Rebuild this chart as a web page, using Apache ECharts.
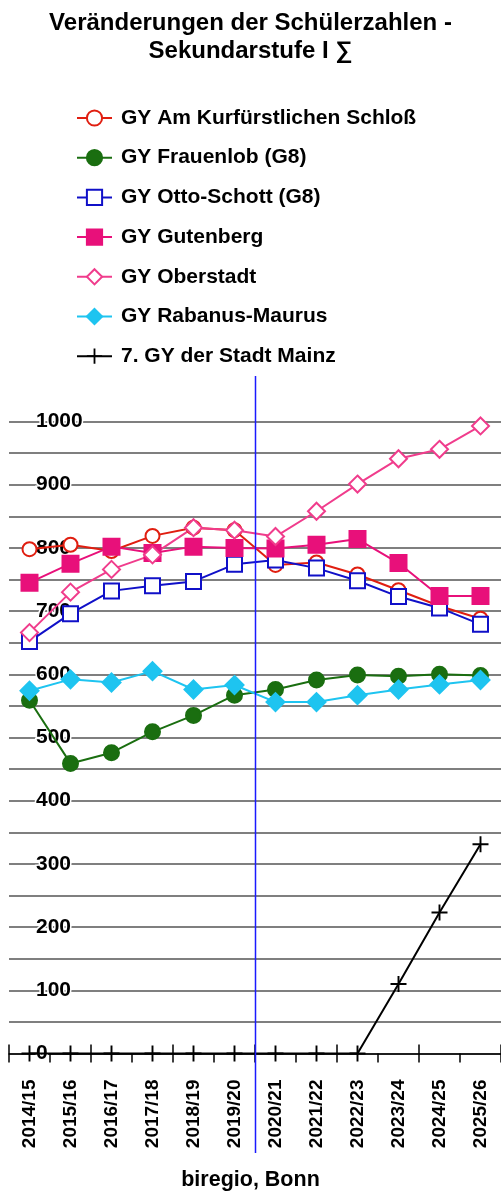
<!DOCTYPE html>
<html>
<head>
<meta charset="utf-8">
<script src="https://cdn.jsdelivr.net/npm/echarts@6/dist/echarts.min.js"></script>
<style>
  html, body { margin: 0; padding: 0; background: #fff; }
  #container { width: 501px; height: 1191px; }
</style>
</head>
<body>
<div id="container"></div>
<script>
// Schuljahre
const years = ['2014/15', '2015/16', '2016/17', '2017/18', '2018/19', '2019/20',
  '2020/21', '2021/22', '2022/23', '2023/24', '2024/25', '2025/26']

// Schülerzahlen je Gymnasium (aus dem Bild geschätzt)
const schloss    = [798, 805, 795, 819, 832, 828, 773, 777, 758, 733, 708, 688]
const frauenlob  = [559, 459, 476, 509, 535, 567, 576, 591, 599, 597, 600, 598]
const ottoSchott = [652, 696, 732, 740, 747, 774, 781, 768, 748, 723, 705, 679]
const gutenberg  = [745, 775, 802, 792, 802, 800, 799, 805, 814, 776, 724, 724]
const oberstadt  = [666, 730, 766, 789, 832, 828, 818, 858, 901, 941, 956, 993]
const rabanus    = [574, 592, 587, 605, 576, 583, 556, 556, 567, 576, 584, 591]
const mainz7     = [0, 0, 0, 0, 0, 0, 0, 0, 0, 110, 223, 331]

const font = "'Liberation Sans', Arial, sans-serif"
const cross = 'path://M4.4,0H5.6V10H4.4Z M0,4.4H10V5.6H0Z'

function line(name, data, color, symbol, size, extra) {
  return Object.assign({
    name: name,
    type: 'line',
    data: data,
    symbol: symbol,
    symbolSize: size,
    showAllSymbol: true,
    clip: false,
    lineStyle: { color: color, width: 2 },
    itemStyle: { color: color, borderColor: color, borderWidth: 2 }
  }, extra || {})
}

var dom = document.getElementById('container')
var myChart = echarts.init(dom, null, { renderer: 'canvas' })

var option = {
  animation: false,
  textStyle: { fontFamily: font },
  title: [
    {
      text: 'Veränderungen der Schülerzahlen -\nSekundarstufe I ∑',
      left: 'center',
      top: 4,
      textStyle: { fontFamily: font, fontSize: 24, fontWeight: 'bold', color: '#000', lineHeight: 28 }
    },
    {
      text: 'biregio, Bonn',
      left: 'center',
      top: 1164,
      textStyle: { fontFamily: font, fontSize: 21.5, fontWeight: 'bold', color: '#000' }
    }
  ],
  legend: {
    orient: 'vertical',
    left: 71,
    top: 102,
    itemWidth: 35,
    itemHeight: 19,
    itemGap: 17.7,
    textStyle: { fontFamily: font, fontSize: 21, fontWeight: 'bold', color: '#000', lineHeight: 22, padding: [0, 0, 0, 4] }
  },
  grid: {
    left: 9,
    right: 0,
    top: 421.5,
    bottom: 137.5,
    outerBoundsMode: 'none'
  },
  xAxis: [
    {
      type: 'category',
      data: years,
      boundaryGap: true,
      axisLine: { lineStyle: { color: '#000', width: 1.5 } },
      axisTick: { show: true, length: 9, lineStyle: { color: '#000', width: 1.5 } },
      axisLabel: { rotate: 90, margin: 26, fontFamily: font, fontSize: 19, fontWeight: 'bold', color: '#000', interval: 0 },
      splitLine: { show: false }
    },
    {
      type: 'category',
      data: years,
      position: 'bottom',
      boundaryGap: true,
      axisLine: { show: false },
      axisTick: { show: true, inside: true, length: 9, lineStyle: { color: '#000', width: 1.5 } },
      axisLabel: { show: false },
      splitLine: { show: false }
    }
  ],
  yAxis: {
    type: 'value',
    min: 0,
    max: 1000,
    interval: 50,
    axisLine: { show: false },
    axisTick: { show: false },
    splitLine: { lineStyle: { color: '#555', width: 1.5 } },
    axisLabel: {
      inside: true,
      margin: 27,
      fontFamily: font,
      fontSize: 21,
      fontWeight: 'bold',
      color: '#000',
      textBorderColor: '#fff',
      textBorderWidth: 3,
      formatter: function (v) { return v % 100 === 0 ? String(v) : '' }
    }
  },
  series: [
    line('GY Am Kurfürstlichen Schloß', schloss, '#e01e10', 'emptyCircle', 14),
    line('GY Frauenlob (G8)', frauenlob, '#1a6e10', 'circle', 15),
    line('GY Otto-Schott (G8)', ottoSchott, '#1010c8', 'emptyRect', 15),
    line('GY Gutenberg', gutenberg, '#e8107a', 'rect', 16),
    line('GY Oberstadt', oberstadt, '#f03c8c', 'emptyDiamond', 17),
    line('GY Rabanus-Maurus', rabanus, '#1ec4f0', 'diamond', 18),
    line('7. GY der Stadt Mainz', mainz7, '#000', cross, 16, {
      itemStyle: { color: '#000', borderWidth: 0 }
    })
  ]
}

if (option && typeof option === 'object') {
  myChart.setOption(option)
}

// Trennlinie zwischen 2019/20 und 2020/21 (Ist / Prognose)
var x1 = myChart.convertToPixel({ xAxisIndex: 0 }, years[5])
var x2 = myChart.convertToPixel({ xAxisIndex: 0 }, years[6])
var xm = Math.round((x1 + x2) / 2) + 0.5
myChart.setOption({
  graphic: [{
    type: 'line',
    z: 100,
    shape: { x1: xm, y1: 376, x2: xm, y2: 1153 },
    style: { stroke: '#1a1aff', lineWidth: 1.5 }
  }]
})
</script>
</body>
</html>
